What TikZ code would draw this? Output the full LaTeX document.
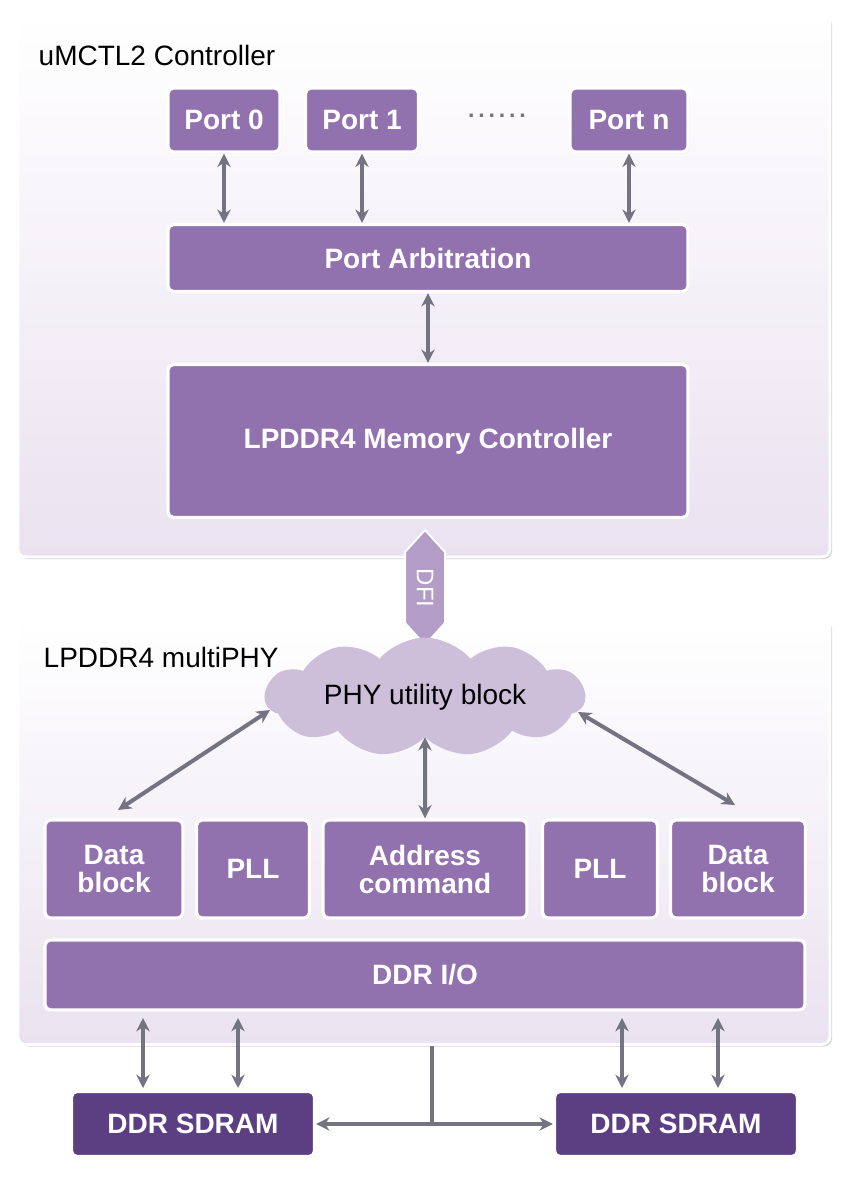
\documentclass[tikz,border=0pt]{standalone}
\usepackage{fontspec}
\setmainfont{Liberation Sans}
\usetikzlibrary{shapes.symbols,arrows.meta,shadows}
\definecolor{blk}{HTML}{9272AE}
\definecolor{dblk}{HTML}{5B3F82}
\definecolor{arr}{HTML}{737382}
\definecolor{bgp}{HTML}{EAE2F0}
\definecolor{cld}{HTML}{CDBEDA}
\begin{document}
\begin{tikzpicture}[x=0.75pt,y=-0.75pt,
  panel/.style={draw=white,line width=2pt,rounded corners=6pt,top color=white,bottom color=bgp,drop shadow={opacity=0.35,shadow xshift=1.5pt,shadow yshift=-1.5pt}},
  box/.style={draw=white,line width=2.5pt,rounded corners=4pt,fill=blk,text=white,font=\bfseries\fontsize{21}{21}\selectfont,align=center,inner sep=0pt,drop shadow={opacity=0.3,shadow xshift=1pt,shadow yshift=-1pt}},
  dbox/.style={box,fill=dblk},
  arw/.style={arr,line width=3pt,{Stealth[length=10pt,width=10pt]}-{Stealth[length=10pt,width=10pt]}},
  sarw/.style={arr,line width=3pt,-{Stealth[length=10pt,width=10pt]}}]
\useasboundingbox (0,0) rectangle (850,1194);
\fill[white] (0,0) rectangle (850,1194);
\node[panel,minimum width=812*0.75pt,minimum height=542*0.75pt] (top) at (424,286) {};
\node[panel,minimum width=812*0.75pt,minimum height=425*0.75pt] (bot) at (424,832) {};
\node[anchor=west,font=\fontsize{21}{21}\selectfont] (t1) at (34,55) {uMCTL2 Controller};
\node[anchor=west,font=\fontsize{21}{21}\selectfont] (t2) at (39,657) {LPDDR4 multiPHY};
\node[box,minimum width=112*0.75pt,minimum height=64*0.75pt] (p0) at (224,120) {Port 0};
\node[box,minimum width=113*0.75pt,minimum height=64*0.75pt] (p1) at (362,120) {Port 1};
\node[font=\LARGE\bfseries,text=arr] (dots) at (497,116) {.\,.\,.\,.\,.\,.};
\node[box,minimum width=118*0.75pt,minimum height=64*0.75pt] (pn) at (629,120) {Port n};
\node[box,minimum width=520*0.75pt,minimum height=67*0.75pt] (pa) at (428,258) {Port Arbitration};
\node[box,minimum width=520*0.75pt,minimum height=153*0.75pt] (mc) at (428,441) {LPDDR4 Memory Controller};
\draw[arw] (p0.south) -- (p0.south|-pa.north);
\draw[arw] (p1.south) -- (p1.south|-pa.north);
\draw[arw] (pn.south) -- (pn.south|-pa.north);
\draw[arw] (pa.south) -- (mc.north);
% DFI
\fill[blk!70] (405,552) -- (425,530) -- (445,552) -- (445,623) -- (425,645) -- (405,623) -- cycle;
\draw[white,line width=1.5pt] (405,552) -- (425,530) -- (445,552) -- (445,623) -- (425,645) -- (405,623) -- cycle;
\node[rotate=-90,font=\fontsize{18}{18}\selectfont,text=white] (dfi) at (425,588) {DFI};
\node[cloud,cloud puffs=11,cloud puff arc=100,aspect=3.6,fill=cld,minimum width=320*0.75pt,minimum height=90*0.75pt,font=\fontsize{21}{21}\selectfont] (cl) at (425,697) {PHY utility block};
\node[box,minimum width=138*0.75pt,minimum height=98*0.75pt] (db1) at (114,869) {Data\\block};
\node[box,minimum width=113*0.75pt,minimum height=98*0.75pt] (pll1) at (253,869) {PLL};
\node[box,minimum width=204*0.75pt,minimum height=98*0.75pt] (ac) at (425,869) {Address\\command};
\node[box,minimum width=115*0.75pt,minimum height=98*0.75pt] (pll2) at (600,869) {PLL};
\node[box,minimum width=135*0.75pt,minimum height=98*0.75pt] (db2) at (738,869) {Data\\block};
\node[box,minimum width=760*0.75pt,minimum height=70*0.75pt] (io) at (425,975) {DDR I/O};
\draw[arw] (270,710) -- (118,810);
\draw[arw] (cl.south) -- (ac.north);
\draw[arw] (578,712) -- (735,805);
\node[dbox,minimum width=243*0.75pt,minimum height=65*0.75pt] (s1) at (193,1124) {DDR SDRAM};
\node[dbox,minimum width=243*0.75pt,minimum height=65*0.75pt] (s2) at (676,1124) {DDR SDRAM};
\foreach \x in {143,238} \draw[arw] (\x,1018) -- (\x,1088);
\foreach \x in {622,718} \draw[arw] (\x,1018) -- (\x,1088);
\coordinate (j) at (432,1124);
\draw[arr,line width=3pt] (432,1046) -- (j);
\draw[sarw] (j) -- (s1.east);
\draw[sarw] (j) -- (s2.west);
\end{tikzpicture}
\end{document}
